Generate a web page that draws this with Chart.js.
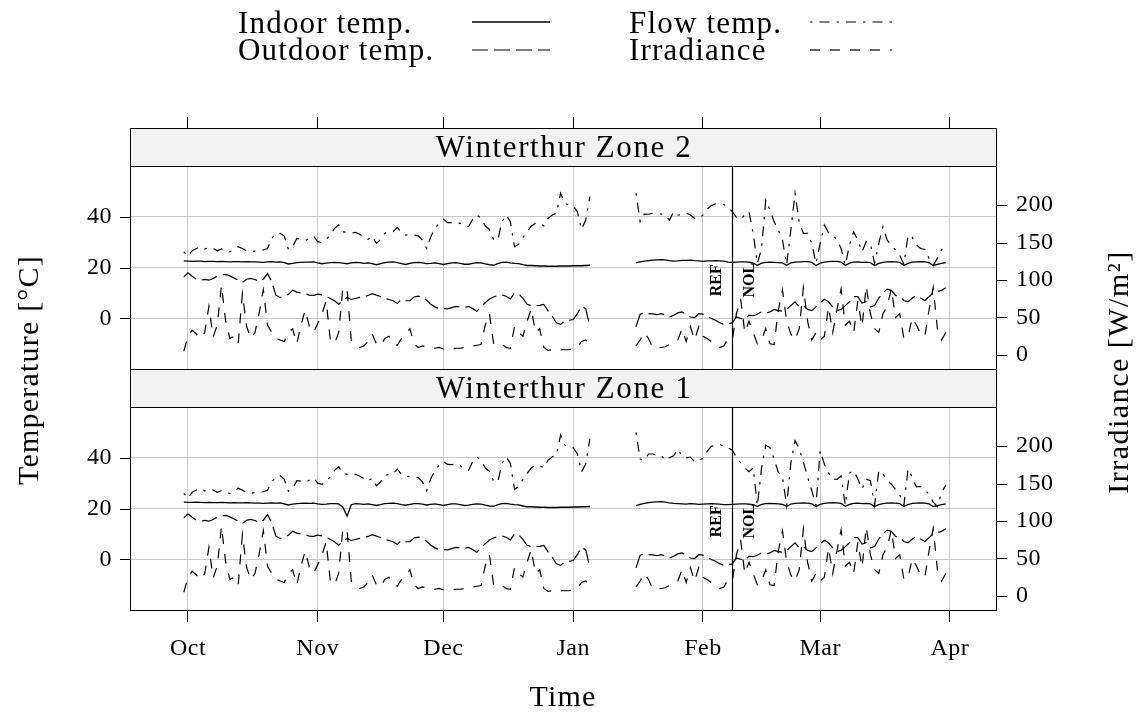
<!DOCTYPE html>
<html>
<head>
<meta charset="utf-8">
<script src="https://cdn.jsdelivr.net/npm/chart.js@4.4.1/dist/chart.umd.min.js"></script>
<style>
  html, body { margin: 0; padding: 0; background: #fff; }
  #wrap { position: relative; width: 1145px; height: 716px; }
</style>
</head>
<body>
<div id="wrap"><canvas id="chart" width="1145" height="716"></canvas></div>
<script>
// day index: 0 = 1 Oct, one value per day from 30 Sep (-1) to 31 Mar (181)
const days = [];
for (let d = -1; d <= 181; d++) days.push(d);

const monthTicks = [0, 31, 61, 92, 123, 151, 182];
const monthLabels = ['Oct', 'Nov', 'Dec', 'Jan', 'Feb', 'Mar', 'Apr'];
const switchDay = 130; // REF | NOL
const tempTicks = [0, 20, 40];
const irrTicks = [0, 50, 100, 150, 200];

// Zone 2 (upper panel)
const indoor2 = [
  22.6, 22.5, 22.4, 22.5, 22.5, 22.3, 22.4, 22.4, 22.3, 22.4,
  22.3, 22.2, 22.3, 22.3, 22.2, 22.3, 22.2, 22.2, 22.1, 22.0,
  22.2, 22.3, 22.1, 22.2, 21.9, 21.4, 21.6, 21.9, 22.0, 22.1,
  22.1, 22.2, 21.8, 21.5, 21.7, 21.9, 22.0, 21.9, 21.7, 21.5,
  21.8, 22.0, 21.9, 21.6, 21.8, 21.5, 21.1, 21.5, 21.9, 22.1,
  22.2, 21.9, 21.5, 21.2, 21.6, 21.9, 22.0, 21.8, 21.5, 21.6,
  21.8, 21.5, 21.2, 21.5, 21.8, 21.9, 21.6, 21.3, 21.3, 21.6,
  21.9, 21.8, 21.4, 21.1, 20.9, 21.5, 22.0, 22.1, 21.8, 21.6,
  21.5, 21.1, 20.8, 20.8, 20.7, 20.6, 20.6, 20.5, 20.5, 20.5,
  20.6, 20.6, 20.6, 20.7, 20.7, 20.7, 20.8, 20.9, null, null,
  null, null, null, null, null, null, null, null, 21.9, 22.2,
  22.5, 22.7, 22.9, 23.0, 23.1, 23.0, 22.7, 22.5, 22.6, 22.8,
  22.8, 22.9, 22.7, 22.6, 22.4, 22.6, 22.6, 22.7, 22.6, 22.5,
  22.1, 22.0, 22.1, 22.2, 22.2, 22.1, 21.7, 20.9, 21.7, 22.0,
  22.1, 22.0, 21.9, 21.8, 20.9, 21.8, 22.1, 22.2, 22.3, 22.3,
  22.0, 20.8, 21.7, 22.1, 22.3, 22.4, 22.4, 22.1, 20.9, 21.7,
  22.1, 22.2, 22.0, 22.1, 21.9, 20.8, 21.6, 22.0, 22.2, 22.3,
  22.2, 22.0, 20.9, 21.6, 22.1, 22.2, 22.3, 22.2, 21.9, 20.8,
  21.2, 21.6, 21.9
];
const flow2 = [
  26.2, 24.5, 26.6, 27.5, 28.2, 27.3, 27.8, 27.5, 26.6, 27.3,
  26.5, 26.2, 27.1, 28.2, 27.5, 26.5, 26.2, 26.5, 26.6, 26.9,
  27.5, 31.5, 33.5, 33.5, 32.4, 27.1, 28.2, 31.5, 31.1, 30.6,
  31.5, 32.4, 30.2, 29.8, 31.1, 32.8, 35.4, 36.8, 34.1, 33.9,
  33.5, 33.9, 33.1, 32.1, 31.1, 32.4, 29.5, 31.0, 33.5, 33.9,
  34.1, 35.8, 33.7, 32.8, 33.1, 32.8, 32.5, 30.8, 27.5, 32.1,
  35.4, 37.4, 39.0, 37.7, 37.7, 37.9, 37.4, 36.4, 36.1, 39.0,
  40.7, 39.4, 36.4, 35.0, 31.1, 30.8, 38.1, 40.7, 38.1, 28.2,
  29.2, 31.9, 34.1, 36.4, 37.4, 37.4, 36.4, 39.4, 40.7, 41.4,
  49.3, 45.3, 44.7, 44.3, 42.0, 35.0, 38.7, 48.0, null, null,
  null, null, null, null, null, null, null, null, 49.3, 38.1,
  41.1, 41.0, 41.4, 41.4, 41.1, 40.6, 38.7, 42.0, 40.7, 40.7,
  41.4, 40.7, 39.4, 39.4, 40.7, 43.0, 44.4, 45.1, 45.1, 44.8,
  44.0, 42.0, 39.8, 39.0, 40.7, 42.0, 33.5, 21.6, 27.5, 46.6,
  42.7, 38.1, 34.8, 30.8, 21.2, 34.8, 49.3, 37.7, 33.5, 33.5,
  29.5, 21.6, 29.5, 36.8, 33.7, 32.4, 31.1, 27.5, 20.9, 28.9,
  34.1, 30.8, 26.2, 30.2, 29.5, 21.6, 29.5, 36.1, 30.8, 28.9,
  26.9, 24.9, 21.3, 32.8, 31.9, 28.9, 27.5, 27.1, 23.6, 20.9,
  23.6, 26.9, 29.5
];

// Zone 1 (lower panel)
const indoor1 = [
  22.5, 22.4, 22.4, 22.5, 22.4, 22.3, 22.4, 22.3, 22.3, 22.4,
  22.3, 22.2, 22.3, 22.2, 22.2, 22.3, 22.2, 22.1, 22.1, 22.0,
  22.1, 22.2, 22.1, 22.2, 21.8, 21.4, 21.7, 21.9, 22.0, 22.1,
  22.0, 22.1, 21.8, 21.6, 21.7, 21.9, 21.9, 21.8, 20.5, 17.0,
  21.5, 21.9, 21.8, 21.6, 21.8, 21.5, 21.2, 21.5, 21.9, 22.0,
  22.1, 21.9, 21.5, 21.3, 21.6, 21.9, 21.9, 21.7, 21.4, 21.6,
  21.8, 21.5, 21.2, 21.5, 21.8, 21.8, 21.5, 21.2, 21.3, 21.6,
  21.8, 21.7, 21.3, 21.0, 20.9, 21.5, 21.9, 22.0, 21.7, 21.5,
  21.4, 21.0, 20.7, 20.7, 20.6, 20.5, 20.5, 20.4, 20.4, 20.4,
  20.5, 20.5, 20.5, 20.6, 20.6, 20.7, 20.7, 20.8, null, null,
  null, null, null, null, null, null, null, null, 21.1, 21.6,
  22.0, 22.3, 22.5, 22.6, 22.7, 22.5, 22.2, 22.0, 21.9, 21.8,
  21.7, 21.9, 21.8, 21.6, 21.7, 21.8, 21.9, 21.8, 21.7, 21.5,
  21.5, 21.6, 21.7, 21.8, 21.8, 21.7, 21.5, 20.9, 21.6, 21.9,
  22.0, 21.9, 21.8, 21.6, 20.9, 21.7, 22.0, 22.1, 22.2, 22.1,
  21.8, 20.8, 21.6, 22.0, 22.2, 22.3, 22.2, 22.0, 20.9, 21.6,
  22.0, 22.1, 21.9, 22.0, 21.8, 20.8, 21.5, 21.9, 22.1, 22.2,
  22.1, 21.9, 20.9, 21.5, 22.0, 22.1, 22.2, 22.1, 21.8, 20.8,
  21.1, 21.5, 21.8
];
const flow1 = [
  26.0, 24.0, 26.4, 27.3, 28.0, 27.0, 27.5, 27.3, 26.4, 27.0,
  26.3, 26.0, 26.9, 28.0, 27.2, 26.3, 26.0, 26.3, 26.4, 26.6,
  27.2, 30.5, 32.5, 33.0, 31.5, 26.8, 27.8, 31.0, 30.8, 30.3,
  31.2, 32.0, 30.0, 29.5, 30.8, 32.5, 35.0, 36.5, 33.8, 33.5,
  33.2, 33.5, 32.8, 31.8, 30.8, 32.0, 29.0, 30.5, 33.0, 33.5,
  33.8, 35.5, 33.4, 32.5, 32.8, 32.5, 32.2, 30.5, 27.0, 31.8,
  35.0, 37.0, 38.6, 37.4, 37.3, 37.5, 37.0, 35.5, 35.0, 38.5,
  40.3, 39.0, 36.0, 34.6, 30.8, 30.5, 37.8, 40.4, 37.8, 27.5,
  28.8, 31.5, 33.8, 36.0, 37.0, 37.0, 36.0, 39.0, 40.4, 41.0,
  49.0, 45.0, 44.3, 44.0, 41.6, 34.5, 37.5, 47.5, null, null,
  null, null, null, null, null, null, null, null, 50.0, 39.5,
  39.0, 41.5, 41.5, 41.0, 41.0, 38.9, 40.0, 40.8, 43.5, 40.5,
  40.0, 40.3, 38.5, 39.0, 39.8, 42.5, 44.5, 45.0, 45.3, 44.5,
  44.0, 43.0, 40.2, 38.0, 36.0, 34.5, 36.0, 21.1, 36.0, 45.0,
  44.0, 39.5, 34.3, 32.5, 21.1, 38.0, 46.8, 43.5, 38.2, 32.5,
  27.0, 21.3, 42.8, 37.5, 34.0, 31.6, 31.5, 32.9, 21.3, 34.0,
  34.9, 31.6, 27.7, 31.6, 31.0, 21.3, 34.9, 33.6, 31.0, 29.6,
  27.5, 25.5, 21.3, 35.6, 32.3, 28.5, 28.7, 27.5, 25.5, 22.5,
  20.8, 26.4, 29.2
];

// shared by both zones
const outdoor = [
  16.3, 17.9, 16.6, 15.4, 15.0, 15.3, 15.0, 15.7, 16.6, 17.1,
  17.3, 16.7, 15.9, 15.0, 14.1, 15.4, 15.7, 15.3, 14.4, 15.4,
  17.7, 14.4, 9.1, 8.2, 8.7, 9.5, 11.1, 10.3, 10.0, 9.7,
  9.1, 9.0, 9.5, 9.2, 8.7, 7.8, 6.9, 5.5, 7.1, 8.2,
  7.4, 7.8, 8.2, 8.4, 9.0, 9.7, 9.1, 8.6, 7.8, 7.4,
  6.9, 5.8, 7.5, 6.9, 6.9, 8.4, 8.7, 8.4, 7.1, 5.5,
  4.5, 3.8, 3.8, 3.7, 4.2, 4.7, 4.5, 4.2, 4.7, 3.8,
  2.8, 4.5, 6.1, 7.6, 8.4, 9.0, 9.2, 8.7, 7.6, 10.0,
  9.7, 7.8, 5.5, 5.0, 5.0, 5.1, 5.5, 2.9, 0.8, -1.8,
  -2.4, -1.1, -0.8, -0.5, 1.8, 4.7, 3.8, -3.4, null, null,
  null, null, null, null, null, null, null, null, -3.4, 1.6,
  2.1, 1.8, 1.7, 1.4, 1.8, 1.3, 0.5, 1.2, 2.1, 2.5,
  1.6, 0.5, 0.3, 1.8, 1.6, 0.8, -0.1, -0.8, -1.8, -2.4,
  -2.1, -1.8, 0.5, 0.0, -0.4, 1.2, 1.0, 1.6, 2.5, 2.0,
  2.5, 3.5, 3.0, 2.8, 3.5, 5.0, 6.5, 4.5, 5.0, 3.5,
  3.0, 4.5, 6.0, 7.5, 6.5, 4.5, 3.0, 3.5, 5.0, 6.5,
  8.5, 8.5, 6.0, 6.5, 4.5, 5.0, 8.0, 10.0, 11.5, 11.0,
  9.0, 8.5, 7.0, 6.5, 8.0, 9.0, 8.0, 7.0, 8.5, 10.0,
  10.5, 11.0, 12.0
];
const irradiance = [
  5, 25, 33, 28, 22, 30, 65, 24, 40, 93,
  45, 22, 25, 15, 82, 38, 22, 30, 56, 87,
  40, 30, 22, 20, 18, 30, 35, 15, 40, 60,
  38, 30, 42, 55, 72, 20, 15, 30, 90, 88,
  20, 12, 10, 12, 18, 28, 15, 12, 22, 25,
  15, 13, 22, 28, 35, 15, 10, 12, 11, 9,
  9, 10, 8, 8, 8, 9, 9, 10, 11, 12,
  13, 14, 40, 55, 15, 12, 14, 10, 9, 38,
  30, 25, 45, 62, 30, 35, 10, 6, 7, 7,
  7, 7, 7, 8, 10, 18, 20, 14, null, null,
  null, null, null, null, null, null, null, null, 12, 20,
  30, 22, 10, 9, 10, 11, 14, 18, 20, 35,
  18, 38, 20, 38, 25, 22, 18, 14, 10, 12,
  22, 20, 55, 75, 30, 45, 30, 15, 20, 35,
  15, 14, 60, 87, 45, 28, 20, 35, 90, 45,
  20, 30, 20, 25, 64, 30, 60, 88, 40, 45,
  30, 72, 38, 92, 55, 35, 30, 55, 65, 88,
  50, 55, 22, 25, 50, 40, 28, 25, 60, 90,
  35, 20, 30
];

const serif = "'Liberation Serif', 'Times New Roman', serif";
Chart.defaults.font.family = serif;
Chart.defaults.color = '#000';

const styles = {
  indoor: { dash: [], width: 1.3 },
  outdoor: { dash: [16, 6], width: 1.2 },
  flow: { dash: [2.5, 7, 10, 7], width: 1.2 },
  irr: { dash: [10, 10], width: 1.2 }
};

function pts(vals) {
  return vals.map((v, i) => ({ x: days[i], y: v }));
}
function ds(label, vals, st, yID) {
  return {
    label, data: pts(vals), yAxisID: yID, xAxisID: 'x',
    borderColor: '#000', borderWidth: st.width, borderDash: st.dash,
    pointRadius: 0, tension: 0, fill: false
  };
}

const gridGrey = '#c8c8c8';
function tempScale(weight) {
  return {
    type: 'linear', position: 'left', stack: 'temp', stackWeight: 1, weight,
    min: -20, max: 75,
    afterBuildTicks: s => { s.ticks = tempTicks.map(v => ({ value: v })); },
    afterFit: s => { s.width = 130; },
    grid: { color: gridGrey, lineWidth: 1, drawTicks: false },
    border: { display: false },
    ticks: { font: { size: 24 }, padding: 18, autoSkip: false }
  };
}
function irrScale(weight) {
  return {
    type: 'linear', position: 'right', stack: 'irr', stackWeight: 1, weight,
    min: -18.7, max: 302.7,
    afterBuildTicks: s => { s.ticks = irrTicks.map(v => ({ value: v })); },
    afterFit: s => { s.width = 149; },
    grid: { display: false, drawOnChartArea: false, drawTicks: false },
    border: { display: false },
    ticks: { font: { size: 24 }, padding: 20, autoSkip: false }
  };
}

const deco = {
  id: 'deco',
  beforeDraw(chart) {
    chart.ctx.letterSpacing = '0.5px';
  },
  beforeDatasetsDraw(chart) {
    const { ctx, chartArea: a, scales } = chart;
    ctx.save();
    ctx.fillStyle = '#f2f2f2';
    for (const id of ['yT2', 'yT1']) {
      const s = scales[id];
      const yb = s.getPixelForValue(60);
      ctx.fillRect(a.left, s.top, a.width, yb - s.top);
    }
    ctx.restore();
  },
  afterDatasetsDraw(chart) {
    const { ctx, chartArea: a, scales } = chart;
    const xs = scales.x;
    const panels = [['yT2', 'yI2', 'Winterthur Zone 2'], ['yT1', 'yI1', 'Winterthur Zone 1']];
    ctx.save();
    ctx.strokeStyle = '#000';
    ctx.fillStyle = '#000';
    for (const [id, idI, title] of panels) {
      const s = scales[id];
      const si = scales[idI];
      const yb = Math.round(s.getPixelForValue(60)) + 0.5;
      const top = Math.round(s.top) + 0.5;
      const bot = Math.round(s.bottom) + 0.5;

      // y tick marks, outside the panel
      ctx.lineWidth = 1;
      ctx.setLineDash([]);
      ctx.beginPath();
      for (const v of tempTicks) {
        const py = Math.round(s.getPixelForValue(v)) + 0.5;
        ctx.moveTo(a.left - 10, py);
        ctx.lineTo(a.left, py);
      }
      for (const v of irrTicks) {
        const py = Math.round(si.getPixelForValue(v)) + 0.5;
        ctx.moveTo(a.right, py);
        ctx.lineTo(a.right + 11, py);
      }
      ctx.stroke();

      // switch line + labels
      const xl = Math.round(xs.getPixelForValue(switchDay)) + 0.5;
      ctx.lineWidth = 1.2;
      ctx.beginPath();
      ctx.moveTo(xl, yb);
      ctx.lineTo(xl, bot);
      ctx.stroke();
      const yc = s.getPixelForValue(15);
      ctx.font = 'bold 16px ' + serif;
      ctx.letterSpacing = '0px';
      ctx.textAlign = 'center';
      ctx.textBaseline = 'middle';
      for (const [txt, dx] of [['REF', -16], ['NOL', 17]]) {
        ctx.save();
        ctx.translate(xl + dx, yc);
        ctx.rotate(-Math.PI / 2);
        ctx.fillText(txt, 0, 0);
        ctx.restore();
      }

      // strip and panel frames
      ctx.lineWidth = 1;
      ctx.strokeRect(Math.round(a.left) + 0.5, top, Math.round(a.width), yb - top);
      ctx.strokeRect(Math.round(a.left) + 0.5, yb, Math.round(a.width), bot - yb);
      ctx.font = '31px ' + serif;
      ctx.letterSpacing = '1.6px';
      ctx.fillText(title, a.left + a.width / 2 + 1, (top + yb) / 2 + 1);
    }

    // legend
    const legend = [
      ['Indoor temp.', styles.indoor, 238, 33, 472, 550, 22],
      ['Outdoor temp.', styles.outdoor, 238, 60, 472, 550, 50],
      ['Flow temp.', styles.flow, 629, 33, 810, 892, 22],
      ['Irradiance', styles.irr, 629, 60, 810, 892, 50]
    ];
    ctx.font = '31px ' + serif;
    ctx.letterSpacing = '1.2px';
    ctx.textAlign = 'left';
    ctx.textBaseline = 'alphabetic';
    for (const [txt, st, tx, ty, x0, x1, ly] of legend) {
      ctx.fillText(txt, tx, ty);
      ctx.setLineDash(st.dash);
      ctx.lineWidth = st.width;
      ctx.beginPath();
      ctx.moveTo(x0, ly);
      ctx.lineTo(x1, ly);
      ctx.stroke();
    }
    ctx.setLineDash([]);

    // axis titles
    ctx.font = '30px ' + serif;
    ctx.textAlign = 'center';
    ctx.textBaseline = 'middle';
    ctx.letterSpacing = '1.2px';
    ctx.fillText('Time', a.left + a.width / 2, 698);
    ctx.save();
    ctx.translate(30, 370);
    ctx.rotate(-Math.PI / 2);
    ctx.fillText('Temperature [\u00B0C]', 0, 0);
    ctx.restore();
    ctx.save();
    ctx.letterSpacing = '1.5px';
    ctx.translate(1120, 372);
    ctx.rotate(-Math.PI / 2);
    ctx.fillText('Irradiance [W/m\u00B2]', 0, 0);
    ctx.restore();
    ctx.restore();
  }
};

new Chart(document.getElementById('chart'), {
  type: 'line',
  data: {
    datasets: [
      ds('Indoor temp. (Zone 2)', indoor2, styles.indoor, 'yT2'),
      ds('Outdoor temp. (Zone 2)', outdoor, styles.outdoor, 'yT2'),
      ds('Flow temp. (Zone 2)', flow2, styles.flow, 'yT2'),
      ds('Irradiance (Zone 2)', irradiance, styles.irr, 'yI2'),
      ds('Indoor temp. (Zone 1)', indoor1, styles.indoor, 'yT1'),
      ds('Outdoor temp. (Zone 1)', outdoor, styles.outdoor, 'yT1'),
      ds('Flow temp. (Zone 1)', flow1, styles.flow, 'yT1'),
      ds('Irradiance (Zone 1)', irradiance, styles.irr, 'yI1')
    ]
  },
  options: {
    responsive: false,
    maintainAspectRatio: false,
    animation: false,
    devicePixelRatio: 1,
    layout: { padding: 0 },
    plugins: { legend: { display: false }, tooltip: { enabled: false }, title: { display: false } },
    scales: {
      x: {
        type: 'linear', position: 'bottom', min: -13.85, max: 193,
        afterBuildTicks: s => { s.ticks = monthTicks.map(v => ({ value: v })); },
        afterFit: s => { s.height = 106; },
        grid: { color: gridGrey, lineWidth: 1, tickColor: '#000', tickLength: 12 },
        border: { display: false },
        ticks: {
          font: { size: 24 }, padding: 12, autoSkip: false, maxRotation: 0,
          callback: (v, i) => monthLabels[i]
        }
      },
      xTop: {
        type: 'linear', position: 'top', min: -13.85, max: 193,
        afterBuildTicks: s => { s.ticks = monthTicks.map(v => ({ value: v })); },
        afterFit: s => { s.height = 128; },
        grid: { drawOnChartArea: false, tickColor: '#000', tickLength: 11 },
        border: { display: false },
        ticks: { display: false }
      },
      yT1: tempScale(1),
      yT2: tempScale(2),
      yI2: irrScale(1),
      yI1: irrScale(2)
    }
  },
  plugins: [deco]
});
</script>
</body>
</html>
